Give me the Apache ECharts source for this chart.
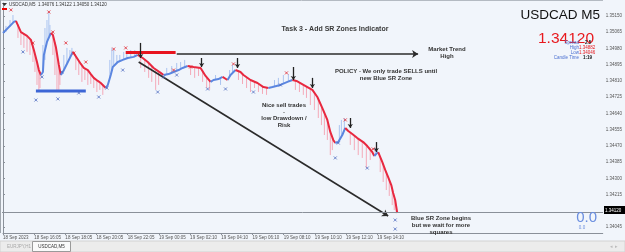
<!DOCTYPE html>
<html><head><meta charset="utf-8">
<script src="https://cdn.jsdelivr.net/npm/echarts@6/dist/echarts.min.js"></script>
<style>html,body{margin:0;padding:0;background:#f1f5fb;}#c{width:625px;height:252px;}</style>
</head><body><div id="c"></div>
<script>
// ---- data (time = hours after 18 Sep 14:05, price = USDCAD) ----
const priceTicks = [1.35150,1.35065,1.34980,1.34895,1.34810,1.34725,1.34640,1.34555,1.34470,1.34385,1.34300,1.34215,1.34045];
const timeTickHours = [0,2,4,6,8,10,12,14,16,18,20,22,24];
const timeTickLabels = ["18 Sep 2023","18 Sep 16:05","18 Sep 18:05","18 Sep 20:05","18 Sep 22:05","19 Sep 00:05","19 Sep 02:10","19 Sep 04:10","19 Sep 06:10","19 Sep 08:10","19 Sep 10:10","19 Sep 12:10","19 Sep 14:10"];

const lineHours = [0.00,0.70,0.83,1.15,1.54,1.79,1.98,2.18,2.30,2.43,2.56,2.62,2.82,3.07,3.20,3.39,3.58,3.71,3.84,4.16,4.48,4.74,4.99,5.18,5.44,5.63,5.82,6.08,6.27,6.59,6.72,6.91,7.04,7.36,7.68,8.00,8.38,8.64,8.96,9.28,9.66,10.11,10.30,10.62,10.94,11.26,11.52,11.84,12.22,12.67,12.99,13.31,13.50,13.82,14.08,14.40,14.59,14.91,15.23,15.42,15.87,16.32,16.70,17.02,17.28,17.79,18.24,18.56,18.82,19.07,19.52,19.84,20.16,20.48,20.80,20.99,21.18,21.31,21.50,21.76,21.95,22.14,22.40,22.72,23.10,23.36,23.68,23.81,23.94,24.06,24.32,24.51,24.70,24.90,25.02,25.15,25.28];
const linePrices = [1.35061,1.35119,1.35124,1.35066,1.35046,1.35025,1.34972,1.34909,1.34867,1.34841,1.34857,1.34946,1.35014,1.35061,1.35051,1.34988,1.34894,1.34841,1.34857,1.34909,1.34962,1.34930,1.34899,1.34878,1.34867,1.34846,1.34826,1.34810,1.34799,1.34773,1.34789,1.34841,1.34883,1.34909,1.34920,1.34930,1.34936,1.34946,1.34930,1.34909,1.34878,1.34852,1.34841,1.34846,1.34857,1.34867,1.34878,1.34888,1.34883,1.34878,1.34836,1.34805,1.34815,1.34820,1.34831,1.34815,1.34841,1.34867,1.34857,1.34841,1.34815,1.34799,1.34778,1.34773,1.34778,1.34789,1.34805,1.34815,1.34810,1.34799,1.34778,1.34763,1.34726,1.34668,1.34606,1.34543,1.34501,1.34485,1.34490,1.34527,1.34564,1.34548,1.34532,1.34511,1.34490,1.34469,1.34438,1.34417,1.34428,1.34438,1.34386,1.34344,1.34307,1.34265,1.34223,1.34187,1.34120];
// 1 = rising (blue) segment, -1 = falling (red) segment, for the segment starting at each point
const lineDir = [1,1,-1,-1,-1,-1,-1,-1,-1,1,1,1,1,-1,-1,-1,-1,1,1,1,-1,-1,-1,-1,-1,-1,-1,-1,-1,1,1,1,1,1,1,1,1,-1,-1,-1,-1,-1,1,1,1,1,1,-1,-1,-1,-1,1,1,1,-1,1,1,-1,-1,-1,-1,-1,-1,1,1,1,1,-1,-1,-1,-1,-1,-1,-1,-1,-1,-1,1,1,1,-1,-1,-1,-1,-1,-1,-1,1,1,-1,-1,-1,-1,-1,-1,-1,-1];

// wicks: [hour, high, low]
const wicks = [[0.19,1.35098,1.35066],[0.45,1.35129,1.35093],[0.64,1.35155,1.35114],[0.96,1.35108,1.35035],[1.15,1.35066,1.34998],[1.34,1.35056,1.34983],[1.54,1.35046,1.34962],[1.73,1.35030,1.34946],[1.92,1.34998,1.34909],[2.05,1.34951,1.34857],[2.18,1.34909,1.34789],[2.30,1.34867,1.34752],[2.37,1.34857,1.34773],
[2.56,1.34998,1.34857],[2.69,1.35087,1.34920],[2.82,1.35129,1.35014],[2.94,1.35171,1.35046],[3.01,1.35103,1.35056],
[3.20,1.35051,1.34946],[3.33,1.35014,1.34841],[3.46,1.34946,1.34752],[3.58,1.34894,1.34763],[3.65,1.34867,1.34789],
[3.90,1.34946,1.34867],[4.10,1.34983,1.34904],[4.29,1.34972,1.34936],[4.42,1.34983,1.34956],
[4.67,1.34941,1.34867],[4.86,1.34915,1.34841],[5.06,1.34894,1.34805],[5.25,1.34878,1.34815],[5.44,1.34867,1.34789],[5.63,1.34846,1.34794],[5.82,1.34826,1.34773],[6.02,1.34815,1.34752],[6.21,1.34805,1.34763],[6.40,1.34789,1.34737],
[6.85,1.34920,1.34826],[6.98,1.34983,1.34867],[7.10,1.34972,1.34888],[7.30,1.34946,1.34904],[7.49,1.34946,1.34915],[7.74,1.34962,1.34920],[7.94,1.34962,1.34930],[8.19,1.34972,1.34936],[8.45,1.34972,1.34936],
[8.83,1.34936,1.34878],[9.09,1.34920,1.34857],[9.34,1.34904,1.34826],[9.54,1.34888,1.34805],[9.79,1.34867,1.34763],[9.98,1.34857,1.34789],
[10.50,1.34878,1.34846],[10.82,1.34888,1.34857],[11.14,1.34904,1.34862],[11.39,1.34909,1.34873],[11.65,1.34920,1.34883],
[12.03,1.34883,1.34841],[12.29,1.34883,1.34826],[12.54,1.34878,1.34836],[12.80,1.34867,1.34805],[13.06,1.34826,1.34773],[13.25,1.34810,1.34763],
[13.63,1.34841,1.34815],[13.95,1.34826,1.34789],[14.53,1.34867,1.34831],[14.72,1.34894,1.34852],
[15.10,1.34862,1.34815],[15.36,1.34846,1.34794],[15.62,1.34831,1.34773],[15.87,1.34815,1.34752],[16.13,1.34810,1.34773],[16.38,1.34794,1.34752],[16.64,1.34784,1.34742],[16.90,1.34773,1.34737],
[17.41,1.34815,1.34778],[17.66,1.34826,1.34784],[17.98,1.34841,1.34794],[18.30,1.34846,1.34805],
[18.75,1.34810,1.34763],[19.01,1.34799,1.34752],[19.26,1.34789,1.34737],[19.46,1.34784,1.34721],[19.71,1.34768,1.34684],[19.97,1.34752,1.34658],[20.22,1.34716,1.34616],[20.42,1.34684,1.34579],[20.61,1.34648,1.34527],[20.80,1.34606,1.34501],[20.99,1.34543,1.34422],[21.12,1.34511,1.34448],
[21.57,1.34579,1.34490],[21.70,1.34606,1.34517],[21.89,1.34616,1.34553],
[22.27,1.34543,1.34475],[22.53,1.34527,1.34448],[22.78,1.34506,1.34422],[23.04,1.34496,1.34407],[23.30,1.34475,1.34354],[23.55,1.34448,1.34396],
[23.87,1.34459,1.34417],
[24.19,1.34417,1.34333],[24.38,1.34375,1.34281],[24.58,1.34333,1.34239],[24.77,1.34291,1.34208],[24.96,1.34249,1.34160],[25.09,1.34208,1.34134],[25.22,1.34160,1.34117]];

const highMarks = [[0.51,1.35182],[2.94,1.35171],[3.20,1.35066],[1.92,1.35009],[4.03,1.35009],[4.54,1.34956],[5.31,1.34909],[7.10,1.34977],[7.87,1.34983],[10.94,1.34867],[12.03,1.34883],[14.78,1.34899],[18.18,1.34852],[21.95,1.34606],[23.74,1.34454]];
const lowMarks = [[1.28,1.34962],[2.50,1.34831],[2.11,1.34710],[3.52,1.34716],[3.78,1.34857],[4.86,1.34747],[6.14,1.34726],[6.66,1.34773],[7.68,1.34867],[9.92,1.34752],[10.30,1.34831],[11.14,1.34841],[13.12,1.34768],[14.27,1.34768],[16.06,1.34752],[17.79,1.34789],[21.31,1.34407],[21.50,1.34485],[23.36,1.34354],[25.15,1.34082],[25.15,1.34035]];

const supplyZone = [[7.87,1.34959],[11.07,1.34959]];
const demandZone = [[2.11,1.34757],[5.31,1.34757]];
const trendArrow = [[11.14,1.34951],[26.62,1.34951]];
const diagArrow = [[8.70,1.34909],[24.70,1.34103]];
// sell signal arrows: [hour, from price, to price]
const sellArrows = [[8.83,1.35009,1.34930],[12.74,1.34930,1.34883],[15.04,1.34930,1.34878],[18.62,1.34883,1.34815],[19.84,1.34826,1.34773],[22.27,1.34616,1.34564],[23.94,1.34490,1.34438]];

// ---- chart ----
const RED = '#e8283f', BLUE = '#5b86e0', PINK = '#f4a9b8', LBLUE = '#abc4f0';
const FONT = 'Liberation Sans, Arial, sans-serif';

function dirAt(h){ let d = lineDir[0]; for (let i=0;i<lineHours.length;i++){ if (lineHours[i] <= h) d = lineDir[i]; } return d; }

const series = [];
series.push({
  type:'custom', z:2, silent:true,
  data: wicks.map(w => [w[0], w[1], w[2], dirAt(w[0])]),
  encode:{x:0, y:[1,2]},
  renderItem:(params, api) => {
    const a = api.coord([api.value(0), api.value(1)]);
    const b = api.coord([api.value(0), api.value(2)]);
    return {type:'line', shape:{x1:a[0], y1:a[1], x2:b[0], y2:b[1]},
      style:{stroke: api.value(3) > 0 ? LBLUE : PINK, lineWidth:1}};
  }
});
let start = 0;
for (let i=1;i<lineHours.length;i++){
  if (i === lineHours.length-1 || lineDir[i] !== lineDir[start]) {
    const pts = [];
    for (let k=start;k<=i;k++) pts.push([lineHours[k], linePrices[k]]);
    series.push({type:'line', z:3, showSymbol:false, silent:true, data:pts,
      lineStyle:{width:2, color: lineDir[start] > 0 ? BLUE : RED}});
    start = i;
  }
}
series.push({type:'line', z:4, showSymbol:false, silent:true, data:supplyZone, lineStyle:{width:3, color:'#e8141e'}});
series.push({type:'line', z:4, showSymbol:false, silent:true, data:demandZone, lineStyle:{width:3, color:'#3d66d6'}});

const arrowLines = [];
arrowLines.push([{coord:trendArrow[0], symbol:'none', lineStyle:{color:'#2b2b2b', width:1.6, type:'solid'}}, {coord:trendArrow[1], symbol:'arrow', symbolSize:6}]);
arrowLines.push([{coord:diagArrow[0], symbol:'none', lineStyle:{color:'#2b2b2b', width:1.6, type:'solid'}}, {coord:diagArrow[1], symbol:'arrow', symbolSize:6}]);
sellArrows.forEach(s => arrowLines.push([{coord:[s[0], s[1]], symbol:'none', lineStyle:{color:'#222', width:1.3, type:'solid'}}, {coord:[s[0], s[2]], symbol:'arrow', symbolSize:4}]));

series.push({type:'scatter', z:6, silent:true, data:highMarks, symbol:'path://M0,0L10,10M10,0L0,10', symbolSize:3,
  itemStyle:{color:'transparent', borderColor:'#e0262f', borderWidth:1},
  markLine:{silent:true, animation:false, label:{show:false}, data:arrowLines}});
series.push({type:'scatter', z:6, silent:true, data:lowMarks, symbol:'path://M0,0L10,10M10,0L0,10', symbolSize:3,
  itemStyle:{color:'transparent', borderColor:'#4f6cc0', borderWidth:1}});

function txt(x, y, text, o){
  o = o || {};
  return {type:'text', z:100, silent:true, style:{x:x, y:y, text:text, fill:o.fill||'#333',
    font:(o.bold?'bold ':'')+(o.size||6)+'px '+FONT, textAlign:o.align||'center', textVerticalAlign:'middle'}};
}
function ln(x1,y1,x2,y2,c){ return {type:'line', z:50, silent:true, shape:{x1,y1,x2,y2}, style:{stroke:c||'#8a9099', lineWidth:1}}; }

const graphic = [
  ln(0,0.5,603,0.5,'#b4bac2'), ln(0.5,0,0.5,233,'#a0a6ad'),
  ln(2,212.5,603,212.5,'#8a9099'),
  {type:'polygon', z:100, silent:true, shape:{points:[[2,3],[7,3],[4.5,6]]}, style:{fill:'#333'}},
  txt(9,4.5,'USDCAD,M5  1.34076 1.34122 1.34050 1.34120',{align:'left', size:4.5, fill:'#333'}),
  {type:'rect', z:100, silent:true, shape:{x:2,y:8,width:5,height:2}, style:{fill:'#e00'}},
  txt(335,29,'Task 3 - Add SR Zones Indicator',{bold:true, size:7, fill:'#3a3a3a'}),
  txt(447,49,'Market Trend',{bold:true}), txt(447,56,'High',{bold:true}),
  txt(386,71,'POLICY - We only trade SELLS until',{bold:true}), txt(386,78,'new Blue SR Zone',{bold:true}),
  txt(284,105,'Nice sell trades',{bold:true}), txt(284,112,'-',{bold:true}),
  txt(284,118,'low Drawdown /',{bold:true}), txt(284,125,'Risk',{bold:true}),
  txt(441,218,'Blue SR Zone begins',{bold:true}), txt(441,225,'but we wait for more',{bold:true}), txt(441,232,'squares',{bold:true}),
  txt(600,15,'USDCAD M5',{align:'right', size:13.5, fill:'#111'}),
  txt(594,39,'1.34120',{align:'right', size:15.5, fill:'#e8191e'}),
  txt(579,43,'Spread',{align:'right', size:4.5, fill:'#4a6fd0'}), txt(585,43,'2.5',{align:'left', size:4.5, fill:'#111', bold:true}),
  txt(579,48,'High',{align:'right', size:4.5, fill:'#4a6fd0'}), txt(579,48,'1.34882',{align:'left', size:4.5, fill:'#e8191e'}),
  txt(579,53,'Low',{align:'right', size:4.5, fill:'#4a6fd0'}), txt(579,53,'1.34046',{align:'left', size:4.5, fill:'#e8191e'}),
  txt(579,58,'Candle Time',{align:'right', size:4.5, fill:'#4a6fd0'}), txt(583,58,'1:19',{align:'left', size:4.5, fill:'#111', bold:true}),
  txt(597,218,'0.0',{align:'right', size:15, fill:'#6a8ee0'}),
  txt(582,228,'0.0',{size:4.5, fill:'#6a8ee0'}),
  {type:'rect', z:100, silent:true, shape:{x:604,y:206,width:21,height:8}, style:{fill:'#000'}},
  txt(605,210.5,'1.34120',{align:'left', size:4.5, fill:'#fff'}),
  {type:'rect', z:90, silent:true, shape:{x:0,y:241,width:625,height:11}, style:{fill:'#ececec', stroke:'#d2d2d2', lineWidth:1}},
  {type:'rect', z:95, silent:true, shape:{x:32.5,y:241.5,width:38,height:10}, style:{fill:'#fafafa', stroke:'#9a9a9a', lineWidth:1}},
  txt(19,246.5,'EURJPY,H1',{size:4.5, fill:'#a8a8a8'}),
  txt(51.5,246.5,'USDCAD,M5',{size:4.5, fill:'#333'}),
  txt(614,246.5,'◂  ▸',{size:4.5, fill:'#bbb'})
];

const chart = echarts.init(document.getElementById('c'), null, {renderer:'canvas'});
chart.setOption({
  animation:false,
  backgroundColor:'#f1f5fb',
  grid:{left:2, right:22, top:3, bottom:19},
  xAxis:{type:'value', min:0, max:38.46,
    axisLine:{show:true, lineStyle:{color:'#8a9099'}},
    axisTick:{show:true, customValues:timeTickHours, length:2, lineStyle:{color:'#8a9099'}},
    axisLabel:{customValues:timeTickHours, align:'left', fontSize:4.5, margin:2, color:'#555', fontFamily:FONT,
      formatter:v => { const i = timeTickHours.findIndex(t => Math.abs(t - v) < 1e-6); return i >= 0 ? timeTickLabels[i] : ''; }},
    splitLine:{show:false}},
  yAxis:{type:'value', position:'right', min:1.34014, max:1.35218,
    axisLine:{show:true, lineStyle:{color:'#8a9099'}},
    axisTick:{show:true, customValues:priceTicks, length:2, lineStyle:{color:'#8a9099'}},
    axisLabel:{customValues:priceTicks, fontSize:4.5, margin:3, color:'#555', fontFamily:FONT, formatter:v => v.toFixed(5)},
    splitLine:{show:false}},
  series:series,
  graphic:graphic
});
</script></body></html>
